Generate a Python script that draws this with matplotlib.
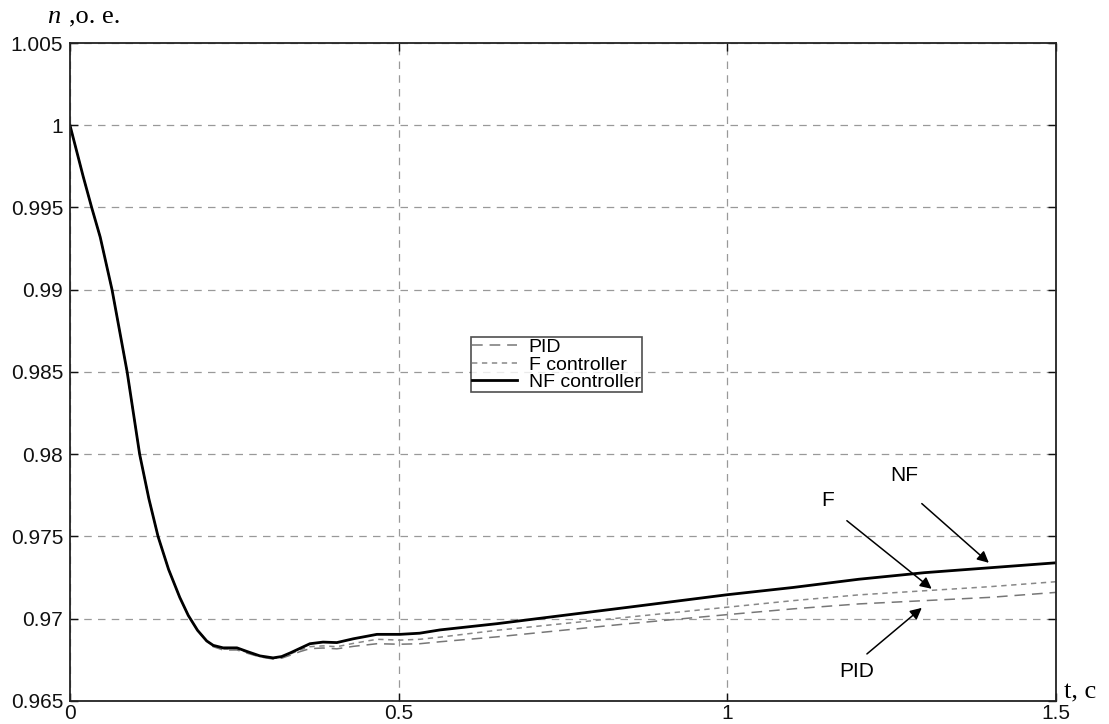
import matplotlib.pyplot as plt

# время, с
t = [0, 0.02, 0.033, 0.046, 0.064, 0.087, 0.106, 0.12, 0.134, 0.15, 0.167,
     0.18, 0.194, 0.208, 0.218, 0.233, 0.254, 0.27, 0.289, 0.309, 0.322,
     0.335, 0.35, 0.365, 0.385, 0.406, 0.431, 0.467, 0.502, 0.532, 0.563,
     0.65, 0.75, 0.85, 1.0, 1.1, 1.2, 1.3, 1.4, 1.5]

nf = [1.0, 0.9969, 0.995, 0.9932, 0.990, 0.985, 0.980, 0.9773, 0.975, 0.973,
      0.9713, 0.9702, 0.9693, 0.96865, 0.96838, 0.96823, 0.96823, 0.9680,
      0.96774, 0.96762, 0.9677, 0.96792, 0.9682, 0.96848, 0.96858, 0.96855,
      0.96878, 0.96905, 0.96905, 0.96912, 0.96932, 0.9697, 0.9702, 0.9707,
      0.97146, 0.9719, 0.9724, 0.9728, 0.9731, 0.9734]

f_ctrl = [1.0, 0.9969, 0.995, 0.9932, 0.990, 0.985, 0.980, 0.9773, 0.975,
          0.973, 0.9713, 0.9702, 0.9693, 0.96865, 0.96833, 0.96815, 0.96815,
          0.96795, 0.9677, 0.96758, 0.96765, 0.96785, 0.9681, 0.9683,
          0.96835, 0.9683, 0.9685, 0.96875, 0.9687, 0.96875, 0.96888,
          0.9693, 0.9697, 0.9701, 0.9707, 0.9711, 0.97145, 0.9717, 0.97195,
          0.97225]

pid = [1.0, 0.9969, 0.995, 0.9932, 0.990, 0.985, 0.980, 0.9773, 0.975,
       0.973, 0.9713, 0.9702, 0.9693, 0.96865, 0.9683, 0.9681, 0.9681,
       0.9679, 0.96768, 0.96755, 0.9676, 0.96778, 0.968, 0.96818, 0.96822,
       0.96817, 0.96832, 0.96848, 0.96845, 0.96848, 0.9686, 0.9689, 0.9693,
       0.9697, 0.97025, 0.9706, 0.9709, 0.9711, 0.9713, 0.9716]

xticks = [0, 0.5, 1, 1.5]
xticklabels = ['0', '0.5', '1', '1.5']
yticks = [0.965, 0.97, 0.975, 0.98, 0.985, 0.99, 0.995, 1.0, 1.005]
yticklabels = ['0.965', '0.97', '0.975', '0.98', '0.985', '0.99', '0.995', '1', '1.005']

# подписи со стрелками: текст, позиция текста, начало стрелки, конец стрелки
notes = [
    ('NF', (1.27, 0.9787), (1.296, 0.9770), (1.398, 0.9734)),
    ('F', (1.153, 0.9772), (1.182, 0.97596), (1.311, 0.97182)),
    ('PID', (1.197, 0.9668), (1.2125, 0.96786), (1.296, 0.97066)),
]

plt.rcParams['font.family'] = ['Liberation Sans', 'DejaVu Sans']

fig = plt.figure(figsize=(11.09, 7.24), dpi=100)
ax = fig.add_axes([0.0631, 0.0318, 0.889, 0.9088])

ax.plot(t, pid, color='#777777', lw=1.1, dashes=(7, 4.5), label='PID')
ax.plot(t, f_ctrl, color='#888888', lw=1.1, dashes=(3.5, 3), label='F controller')
ax.plot(t, nf, color='black', lw=2.0, label='NF controller')

ax.set_xlim(0, 1.5)
ax.set_ylim(0.965, 1.005)
ax.set_xticks(xticks)
ax.set_xticklabels(xticklabels)
ax.set_yticks(yticks)
ax.set_yticklabels(yticklabels)
ax.tick_params(direction='in', length=6, width=1, labelsize=15,
               top=True, right=True, colors='#111111')
ax.tick_params(axis='x', pad=2)
ax.tick_params(axis='y', pad=5)
ax.grid(True, color='#999999', lw=0.9, dashes=(6, 5))
for s in ax.spines.values():
    s.set_linewidth(1.3)
    s.set_color('#222222')

for txt, tpos, a0, a1 in notes:
    ax.text(tpos[0], tpos[1], txt, fontsize=15, ha='center', va='center')
    ax.annotate('', xy=a1, xytext=a0,
                arrowprops=dict(arrowstyle='-|>', color='black', lw=1.1,
                                mutation_scale=17, shrinkA=0, shrinkB=0))

leg = ax.legend(loc='upper left', bbox_to_anchor=(0.407, 0.5525), fontsize=14,
                frameon=True, fancybox=False, edgecolor='#222222',
                borderpad=0.05, labelspacing=0.0, handlelength=2.3,
                handletextpad=0.6, borderaxespad=0)
leg.get_frame().set_linewidth(1.2)

fig.text(0.042, 0.977, 'n', family='Liberation Serif', style='italic',
         fontsize=19, va='center')
fig.text(0.062, 0.977, ',o. e.', family='Liberation Serif', fontsize=19,
         va='center')
fig.text(0.959, 0.043, 't, c', family='Liberation Serif', fontsize=19,
         va='center')

fig.savefig('out.png', dpi=100)
